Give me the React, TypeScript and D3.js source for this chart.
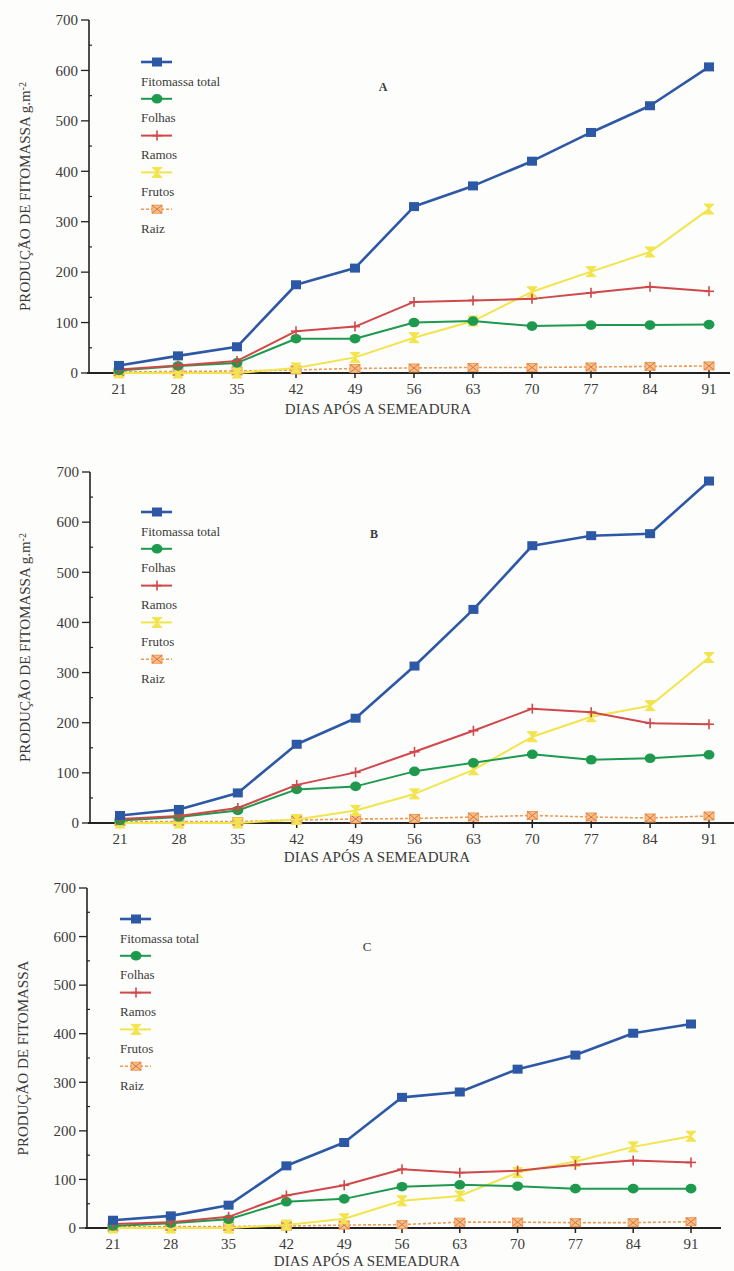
import React from "react";
import * as d3 from "d3";

const days = [21, 28, 35, 42, 49, 56, 63, 70, 77, 84, 91];
const yTicks = [0, 100, 200, 300, 400, 500, 600, 700];
const seriesNames = ["Fitomassa total", "Folhas", "Ramos", "Frutos", "Raiz"];
const panelLetters = ["A", "B", "C"];
const yLabels = ["PRODUÇÃO DE FITOMASSA g.m", "PRODUÇÃO DE FITOMASSA g.m", "PRODUÇÃO DE FITOMASSA"];
const xLabel = "DIAS APÓS A SEMEADURA";

const totalA = [15, 34, 52, 175, 208, 330, 371, 420, 477, 530, 607];
const folhasA = [5, 14, 20, 68, 68, 100, 103, 93, 95, 95, 96];
const ramosA = [7, 15, 24, 83, 92, 141, 144, 147, 159, 171, 162];
const frutosA = [0, 0, 0, 10, 31, 70, 103, 161, 201, 240, 325];
const raizA = [2, 3, 4, 6, 9, 10, 11, 11, 12, 13, 14];

const totalB = [15, 27, 60, 157, 209, 313, 426, 553, 573, 577, 682];
const folhasB = [5, 12, 25, 67, 73, 103, 120, 137, 126, 129, 136];
const ramosB = [8, 14, 30, 76, 101, 142, 184, 228, 221, 199, 197];
const frutosB = [0, 0, 0, 7, 25, 58, 106, 172, 212, 234, 330];
const raizB = [3, 3, 3, 6, 8, 9, 12, 15, 12, 10, 14];

const totalC = [16, 25, 47, 128, 176, 269, 280, 327, 356, 401, 420];
const folhasC = [4, 10, 18, 54, 60, 85, 89, 86, 81, 81, 81];
const ramosC = [8, 12, 23, 67, 88, 121, 114, 118, 130, 139, 135];
const frutosC = [0, 0, 0, 6, 19, 56, 66, 114, 137, 167, 189];
const raizC = [2, 3, 3, 4, 6, 7, 12, 12, 11, 11, 13];

const panelData = [
  [totalA, folhasA, ramosA, frutosA, raizA],
  [totalB, folhasB, ramosB, frutosB, raizB],
  [totalC, folhasC, ramosC, frutosC, raizC],
];

const layouts = [
  { x0: 119, x1: 709, yTop: 20, yBase: 373, axL: 89, axR: 730, letter: [383, 87], bold: true, legX: 141, legY: 62, xlabY: 409, xlabX: 378, ylabX: 25, sup: true },
  { x0: 120, x1: 709, yTop: 472, yBase: 823, axL: 90, axR: 734, letter: [374, 534], bold: true, legX: 141, legY: 512, xlabY: 857, xlabX: 377, ylabX: 25, sup: true },
  { x0: 113, x1: 691, yTop: 888, yBase: 1228, axL: 87, axR: 721, letter: [367, 946], bold: false, legX: 120, legY: 919, xlabY: 1261, xlabX: 367, ylabX: 23, sup: false },
];

const styles = [
  { color: "#2d58a6", width: 2.6, dash: "", marker: "square" },
  { color: "#1e9a4e", width: 2, dash: "", marker: "circle" },
  { color: "#d0484a", width: 2, dash: "", marker: "plus" },
  { color: "#f2e44c", width: 2, dash: "", marker: "hourglass" },
  { color: "#ee9a55", width: 1.6, dash: "3,2", marker: "boxx" },
];

const FONT = "Liberation Serif, Times New Roman, DejaVu Serif, serif";
const TEXT = "#3a3a3a";

function Marker({ type, x, y, color }: { type: string; x: number; y: number; color: string }) {
  if (type === "square") return <rect x={x - 5} y={y - 4.5} width={10} height={9} fill={color} />;
  if (type === "circle") return <ellipse cx={x} cy={y} rx={5.5} ry={4.8} fill={color} />;
  if (type === "plus")
    return (
      <g stroke={color} strokeWidth={1.6}>
        <line x1={x - 5} x2={x + 5} y1={y} y2={y} />
        <line x1={x} x2={x} y1={y - 5} y2={y + 5} />
      </g>
    );
  if (type === "hourglass")
    return (
      <path d={`M${x - 5},${y - 5}L${x + 5},${y - 5}L${x - 5},${y + 5}L${x + 5},${y + 5}Z`} fill={color} stroke={color} strokeWidth={1} />
    );
  return (
    <g>
      <rect x={x - 5} y={y - 4} width={10} height={8} fill="#f5c08a" stroke={color} strokeWidth={1} />
      <path d={`M${x - 5},${y - 4}L${x + 5},${y + 4}M${x + 5},${y - 4}L${x - 5},${y + 4}`} stroke="#e0703a" strokeWidth={1} />
    </g>
  );
}

function Panel({ idx }: { idx: number }) {
  const L = layouts[idx];
  const data = panelData[idx];
  const x = d3.scaleLinear().domain([21, 91]).range([L.x0, L.x1]);
  const y = d3.scaleLinear().domain([0, 700]).range([L.yBase, L.yTop]);
  const line = d3
    .line<number>()
    .x((_, i) => x(days[i]))
    .y((v) => y(v));
  const minor = d3.range(50, 700, 100);
  const order = [4, 3, 1, 2, 0];
  const ts = { fontFamily: FONT };
  return (
    <g>
      <line x1={L.axL} x2={L.axL} y1={L.yTop} y2={L.yBase} stroke="#222" strokeWidth={1.6} />
      <line x1={L.axL - 2} x2={L.axR} y1={L.yBase} y2={L.yBase} stroke="#222" strokeWidth={1.8} />
      {yTicks.map((t) => (
        <g key={"y" + t}>
          <line x1={L.axL - 8} x2={L.axL} y1={y(t)} y2={y(t)} stroke="#222" strokeWidth={1.3} />
          <text x={L.axL - 11} y={y(t)} dy="0.35em" textAnchor="end" style={ts} fontSize={15} fill={TEXT}>
            {t}
          </text>
        </g>
      ))}
      {minor.map((t) => (
        <line key={"m" + t} x1={L.axL} x2={L.axL + 3} y1={y(t)} y2={y(t)} stroke="#222" strokeWidth={1.2} />
      ))}
      {days.map((d) => (
        <g key={"x" + d}>
          <line x1={x(d)} x2={x(d)} y1={L.yBase - 3} y2={L.yBase + 5} stroke="#222" strokeWidth={1.5} />
          <text x={x(d)} y={L.yBase + 16} dy="0.35em" textAnchor="middle" style={ts} fontSize={15} fill={TEXT}>
            {d}
          </text>
        </g>
      ))}
      <text x={L.xlabX} y={L.xlabY} dy="0.35em" textAnchor="middle" style={ts} fontSize={15} fill={TEXT}>
        {xLabel}
      </text>
      <text
        transform={`translate(${L.ylabX},${(L.yTop + L.yBase) / 2}) rotate(-90)`}
        dy="0.35em"
        textAnchor="middle"
        style={ts}
        fontSize={15}
        fill={TEXT}
      >
        {yLabels[idx]}
        {L.sup ? (
          <tspan dy="-0.45em" fontSize={10}>
            -2
          </tspan>
        ) : null}
      </text>
      <text x={L.letter[0]} y={L.letter[1]} dy="0.35em" textAnchor="middle" style={ts} fontSize={L.bold ? 12 : 13} fontWeight={L.bold ? "bold" : "normal"} fill={TEXT}>
        {panelLetters[idx]}
      </text>
      {order.map((s) => (
        <g key={"s" + s}>
          <path d={line(data[s]) || ""} fill="none" stroke={styles[s].color} strokeWidth={styles[s].width} strokeDasharray={styles[s].dash} strokeLinejoin="round" />
          {data[s].map((v, i) => (
            <Marker key={i} type={styles[s].marker} x={x(days[i])} y={y(v)} color={styles[s].color} />
          ))}
        </g>
      ))}
      {seriesNames.map((n, s) => {
        const my = L.legY + s * 36.8;
        return (
          <g key={"l" + s}>
            <line x1={L.legX} x2={L.legX + 31} y1={my} y2={my} stroke={styles[s].color} strokeWidth={styles[s].width} strokeDasharray={styles[s].dash} />
            <Marker type={styles[s].marker} x={L.legX + 16} y={my} color={styles[s].color} />
            <text x={L.legX} y={my + 19} dy="0.35em" style={ts} fontSize={13} fill={TEXT}>
              {n}
            </text>
          </g>
        );
      })}
    </g>
  );
}

export default function App() {
  return (
    <svg width={734} height={1271} style={{ position: "absolute", left: 0, top: 0, display: "block", fontFamily: FONT }}>
      <rect x={0} y={0} width={734} height={1271} fill="#fdfdfb" />
      {[0, 1, 2].map((i) => (
        <Panel key={i} idx={i} />
      ))}
    </svg>
  );
}
